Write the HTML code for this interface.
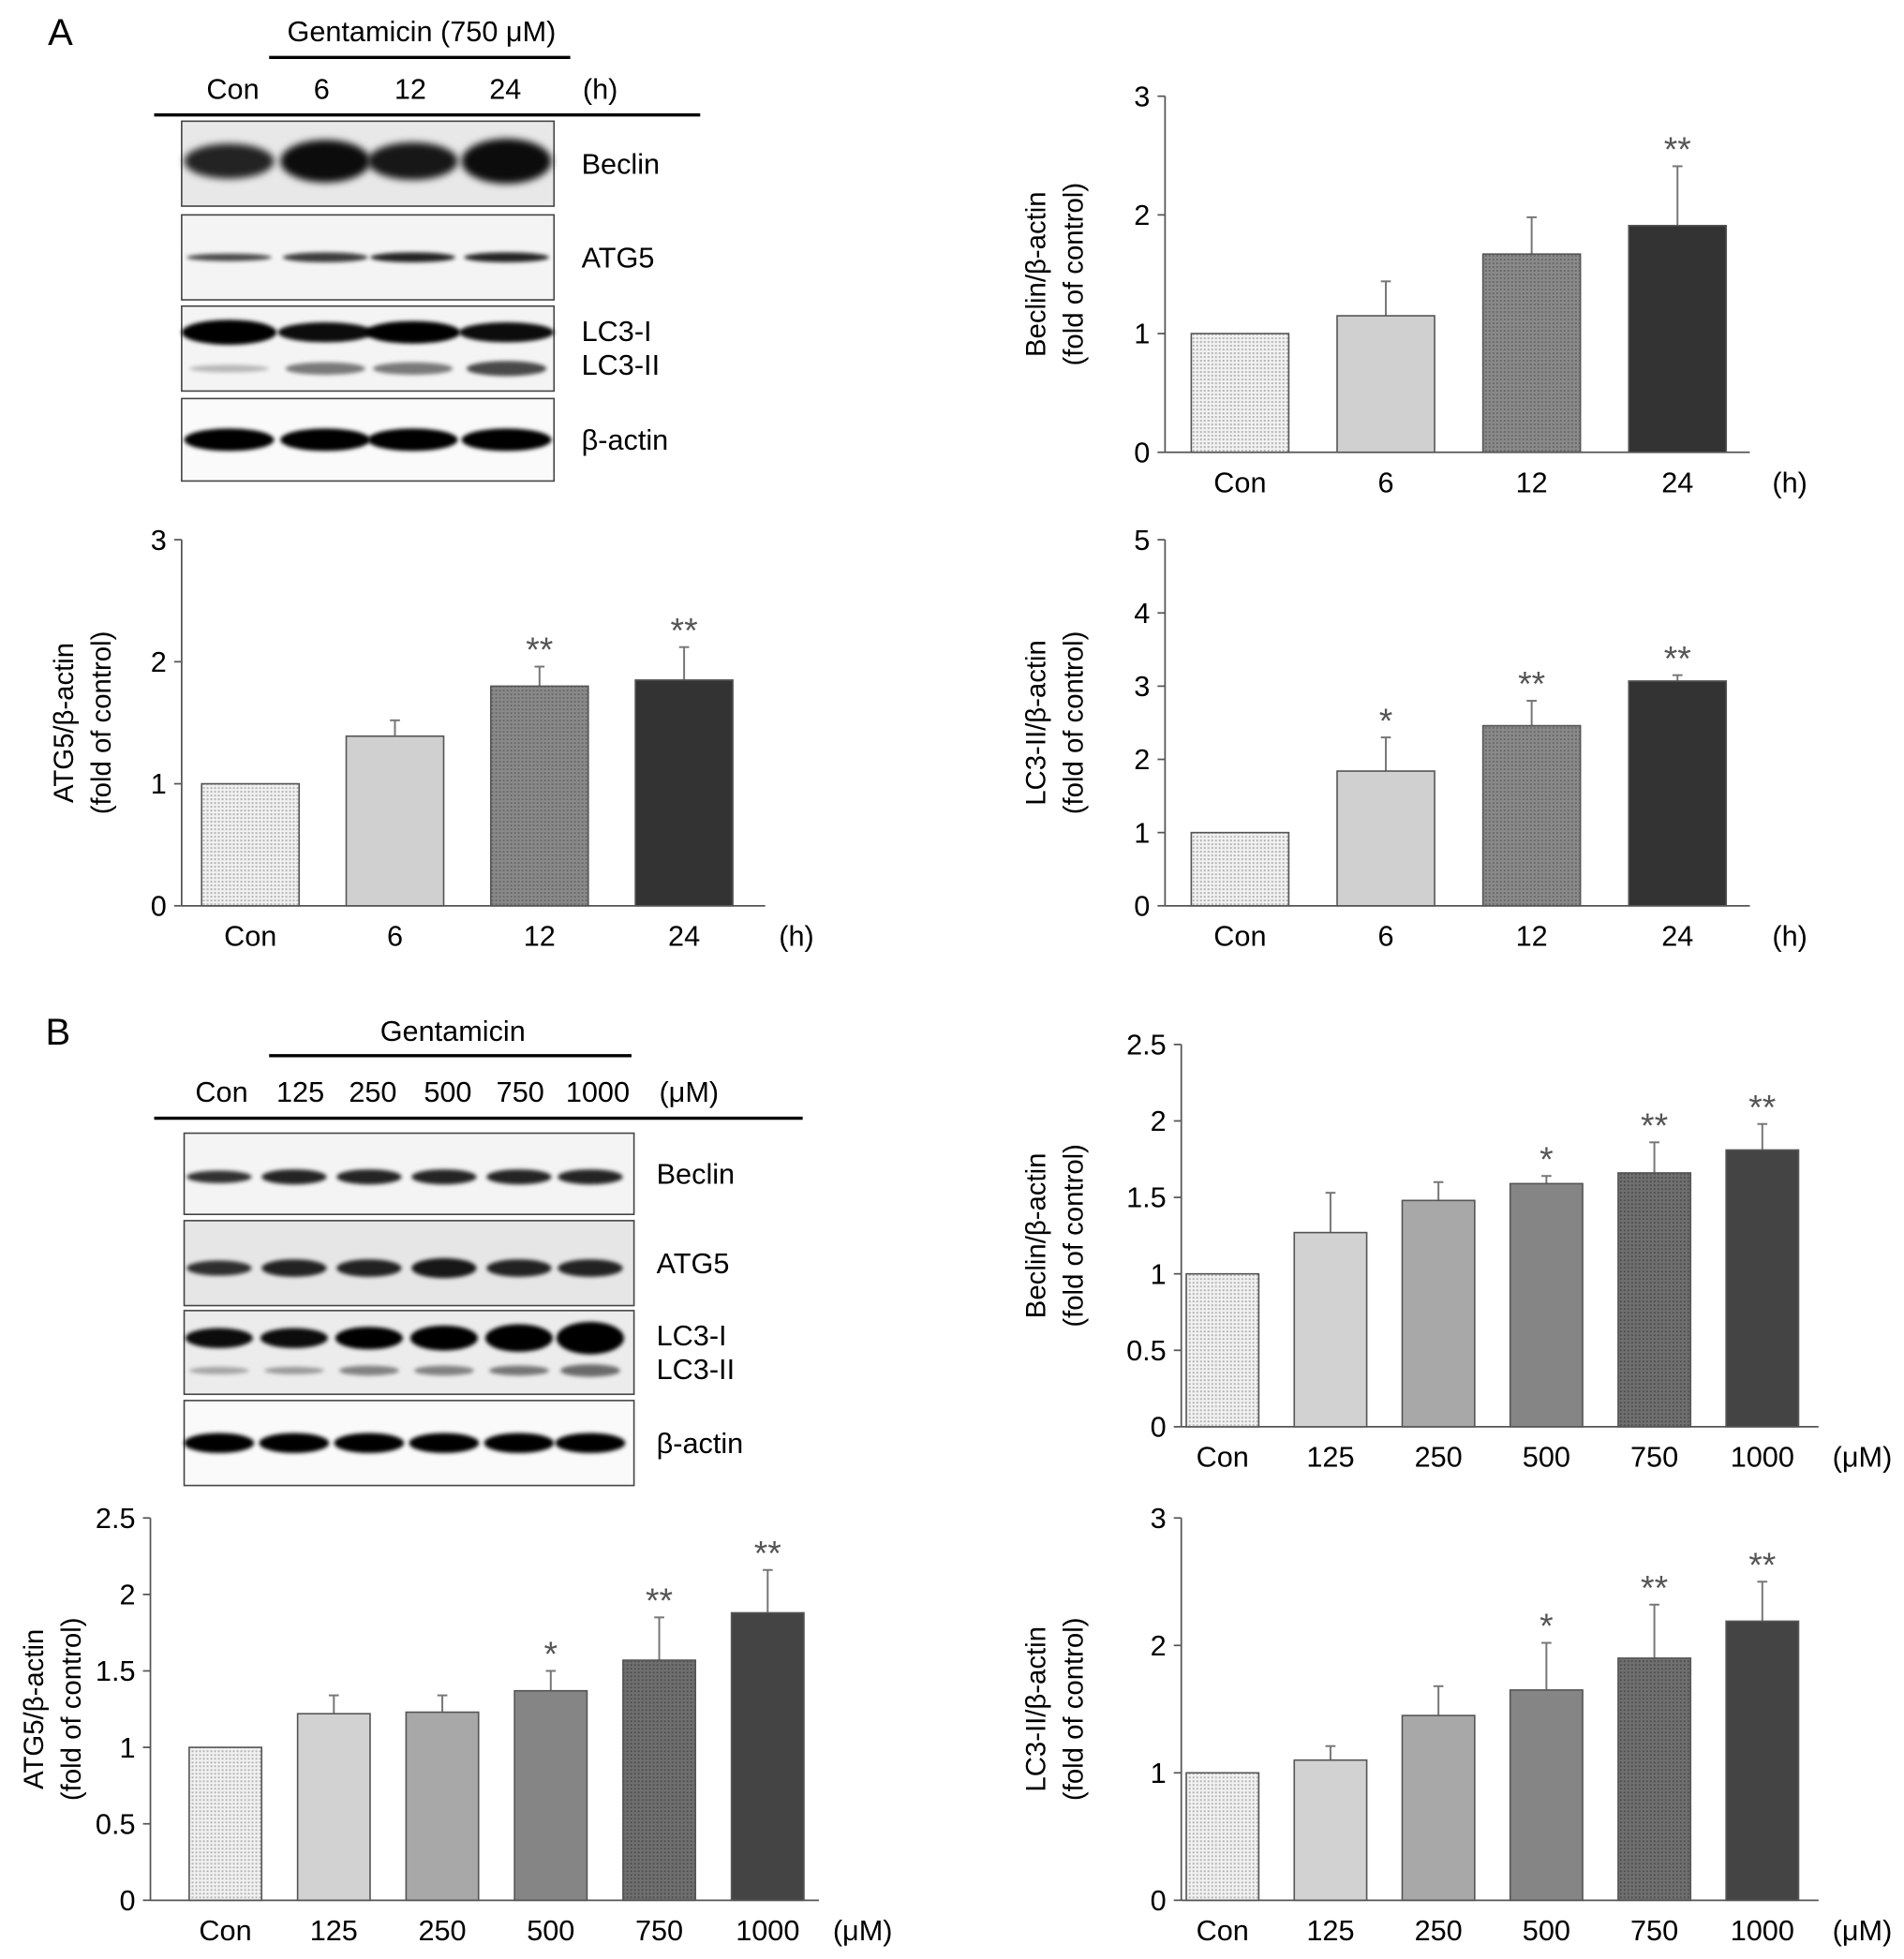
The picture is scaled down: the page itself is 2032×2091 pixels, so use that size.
<!DOCTYPE html>
<html><head><meta charset="utf-8"><style>
html,body{margin:0;padding:0;background:#fff;}
svg{display:block;font-family:"Liberation Sans",Arial,sans-serif;}
</style></head><body>
<svg id="fig" width="2032" height="2091" viewBox="0 0 1523 1568">
<defs>
<filter id="blur" x="-20%" y="-50%" width="140%" height="200%"><feGaussianBlur stdDeviation="3"/></filter>
<filter id="blurS" x="-20%" y="-50%" width="140%" height="200%"><feGaussianBlur stdDeviation="1.6"/></filter>
<pattern id="dots" width="3" height="3" patternUnits="userSpaceOnUse"><rect width="3" height="3" fill="#f2f2f2"/><rect width="1.5" height="1.5" fill="#b5b5b5"/></pattern>
<pattern id="dotsMid" width="3" height="3" patternUnits="userSpaceOnUse"><rect width="3" height="3" fill="#8a8a8a"/><rect width="1.5" height="1.5" fill="#6a6a6a"/></pattern>
<pattern id="dotsDark" width="3" height="3" patternUnits="userSpaceOnUse"><rect width="3" height="3" fill="#707070"/><rect width="1.5" height="1.5" fill="#505050"/></pattern>
</defs>

<text x="38" y="36" font-size="30">A</text>
<text x="337" y="33" font-size="23" text-anchor="middle">Gentamicin (750 μM)</text>
<line x1="215" y1="46" x2="456" y2="46" stroke="#000" stroke-width="2.5"/>
<g font-size="23" text-anchor="middle">
<text x="186" y="79">Con</text><text x="257" y="79">6</text><text x="328" y="79">12</text><text x="404" y="79">24</text><text x="480" y="79">(h)</text>
</g>
<line x1="123" y1="92" x2="560" y2="92" stroke="#000" stroke-width="2.5"/>
<g id="blotsA"></g>

<text x="36" y="836" font-size="30">B</text>
<text x="362" y="833" font-size="23" text-anchor="middle">Gentamicin</text>
<line x1="215" y1="845" x2="505" y2="845" stroke="#000" stroke-width="2.5"/>
<g font-size="23" text-anchor="middle">
<text x="177" y="882">Con</text><text x="240" y="882">125</text><text x="298" y="882">250</text><text x="358" y="882">500</text><text x="416" y="882">750</text><text x="478" y="882">1000</text><text x="551" y="882">(μM)</text>
</g>
<line x1="123" y1="895" x2="642" y2="895" stroke="#000" stroke-width="2.5"/>
<g id="blotsB"></g>

<g id="charts"></g>
</svg>
<script>
const NS="http://www.w3.org/2000/svg";
function mk(tag,attrs,parent,text){const e=document.createElementNS(NS,tag);for(const k in attrs)e.setAttribute(k,attrs[k]);if(text!==undefined)e.textContent=text;parent.appendChild(e);return e;}

const catsA=["Con","6","12","24"];
const catsB=["Con","125","250","500","750","1000"];
const beclinA=[1,1.15,1.67,1.91];
const beclinAErr=[0,1.44,1.98,2.41];
const beclinAStars=["","","","**"];
const atg5A=[1,1.39,1.8,1.85];
const atg5AErr=[0,1.52,1.96,2.12];
const atg5AStars=["","","**","**"];
const lc3A=[1,1.84,2.46,3.07];
const lc3AErr=[0,2.3,2.8,3.15];
const lc3AStars=["","*","**","**"];
const beclinB=[1,1.27,1.48,1.59,1.66,1.81];
const beclinBErr=[0,1.53,1.6,1.64,1.86,1.98];
const beclinBStars=["","","","*","**","**"];
const atg5B=[1,1.22,1.23,1.37,1.57,1.88];
const atg5BErr=[0,1.34,1.34,1.5,1.85,2.16];
const atg5BStars=["","","","*","**","**"];
const lc3B=[1,1.1,1.45,1.65,1.9,2.19];
const lc3BErr=[0,1.21,1.68,2.02,2.32,2.5];
const lc3BStars=["","","","*","**","**"];
const ticksA3=["0","1","2","3"];
const ticksA5=["0","1","2","3","4","5"];
const ticksB25=["0","0.5","1","1.5","2","2.5"];

const fillsA=["url(#dots)","#d0d0d0","url(#dotsMid)","#333"];
const fillsB=["url(#dots)","#d2d2d2","#a8a8a8","#858585","url(#dotsDark)","#444"];

const charts=[
 {name:"beclin-time-chart",x0:932,x1:1400,y0:362,yTop:77,max:3,ticks:ticksA3,cats:catsA,vals:beclinA,err:beclinAErr,stars:beclinAStars,fills:fillsA,first:992,step:116.7,bw:78,unit:"(h)",unitX:1432,t1:"Beclin/β-actin",tx:828},
 {name:"atg5-time-chart",x0:145,x1:612,y0:725,yTop:432,max:3,ticks:ticksA3,cats:catsA,vals:atg5A,err:atg5AErr,stars:atg5AStars,fills:fillsA,first:200,step:115.7,bw:78,unit:"(h)",unitX:637,t1:"ATG5/β-actin",tx:50},
 {name:"lc3-time-chart",x0:932,x1:1400,y0:725,yTop:432,max:5,ticks:ticksA5,cats:catsA,vals:lc3A,err:lc3AErr,stars:lc3AStars,fills:fillsA,first:992,step:116.7,bw:78,unit:"(h)",unitX:1432,t1:"LC3-II/β-actin",tx:828},
 {name:"beclin-dose-chart",x0:945,x1:1455,y0:1142,yTop:836,max:2.5,ticks:ticksB25,cats:catsB,vals:beclinB,err:beclinBErr,stars:beclinBStars,fills:fillsB,first:978,step:86.4,bw:58,unit:"(μM)",unitX:1490,t1:"Beclin/β-actin",tx:828},
 {name:"atg5-dose-chart",x0:120,x1:655,y0:1521,yTop:1215,max:2.5,ticks:ticksB25,cats:catsB,vals:atg5B,err:atg5BErr,stars:atg5BStars,fills:fillsB,first:180,step:86.8,bw:58,unit:"(μM)",unitX:690,t1:"ATG5/β-actin",tx:26},
 {name:"lc3-dose-chart",x0:945,x1:1455,y0:1521,yTop:1215,max:3,ticks:ticksA3,cats:catsB,vals:lc3B,err:lc3BErr,stars:lc3BStars,fills:fillsB,first:978,step:86.4,bw:58,unit:"(μM)",unitX:1490,t1:"LC3-II/β-actin",tx:828}
];

const root=document.getElementById("charts");
charts.forEach(c=>{
 const g=mk("g",{},root);
 
 
 const yS=v=>c.y0-(v/c.max)*(c.y0-c.yTop);
 const xS=i=>c.first+i*c.step;
 const ya=mk("line",{x1:c.x0,y1:c.yTop,x2:c.x0,y2:c.y0,stroke:"#555","stroke-width":1.3},g);
 
 
 const xa=mk("line",{x1:c.x0,y1:c.y0,x2:c.x1,y2:c.y0,stroke:"#555","stroke-width":1.3},g);
 
 
 c.ticks.forEach(t=>{
  const v=parseFloat(t),y=yS(v);
  mk("line",{x1:c.x0-6,y1:y,x2:c.x0,y2:y,stroke:"#555","stroke-width":1.3},g);
  const tl=mk("text",{x:c.x0-12,y:y+8,"font-size":23,"text-anchor":"end"},g,t);
  
  
 });
 c.cats.forEach((cat,i)=>{
  const cx=xS(i),v=c.vals[i],y=yS(v);
  if(c.err[i]>0){
   const eb=mk("line",{x1:cx,y1:yS(c.err[i]),x2:cx,y2:y,stroke:"#777","stroke-width":1.5},g);
   
   
   mk("line",{x1:cx-4,y1:yS(c.err[i]),x2:cx+4,y2:yS(c.err[i]),stroke:"#777","stroke-width":1.5},g);
  }
  const b=mk("rect",{x:cx-c.bw/2,y:y,width:c.bw,height:c.y0-y,fill:c.fills[i],stroke:"#555","stroke-width":1.2},g);
  
  
  if(c.stars[i]){
   const top=c.err[i]>0?yS(c.err[i]):y;
   const s=mk("text",{x:cx,y:top-4,"font-size":28,"text-anchor":"middle",fill:"#555"},g,c.stars[i]);
   
   
  }
  const xl=mk("text",{x:cx,y:c.y0+32,"font-size":23,"text-anchor":"middle"},g,cat);
  
  
 });
 const u=mk("text",{x:c.unitX,y:c.y0+32,"font-size":23,"text-anchor":"middle"},g,c.unit);
 
 
 const cy=(c.y0+c.yTop)/2;
 const t1=mk("text",{x:0,y:0,"font-size":22,"text-anchor":"middle",transform:`translate(${c.tx+8},${cy}) rotate(-90)`},g,c.t1);
 
 
 const t2=mk("text",{x:0,y:0,"font-size":22,"text-anchor":"middle",transform:`translate(${c.tx+38},${cy}) rotate(-90)`},g,"(fold of control)");
 
 
});

function blot(parent,x,y,w,h,lanes,bands,label,labelX,bg){
 const g=mk("g",{},parent);
 
 
 mk("rect",{x:x,y:y,width:w,height:h,fill:bg||"#f4f4f4",stroke:"#444","stroke-width":1.2},g);
 bands.forEach(bd=>{
  lanes.forEach((lx,i)=>{
   mk("ellipse",{cx:lx,cy:y+bd.y,rx:bd.rx,ry:bd.ry[i],fill:"#000","fill-opacity":bd.o[i],filter:bd.s?"url(#blurS)":"url(#blur)"},g);
  });
 });
 label.forEach((l,i)=>{
  const t=mk("text",{x:labelX,y:y+(label.length==1?h/2+8:[28,55][i]),"font-size":23},g,l);
  
  
 });
}
const bA=document.getElementById("blotsA");
const lA=[183,260,330,405];
blot(bA,145,97,298,68,lA,[{y:32,rx:36,ry:[14,17,15,18],o:[0.85,0.95,0.9,0.95]}],["Beclin"],465,"#e8e8e8");
blot(bA,145,172,298,68,lA,[{y:34,rx:34,ry:[3,4,4,4],o:[0.7,0.75,0.85,0.85],s:1}],["ATG5"],465);
blot(bA,145,245,298,68,lA,[{y:21,rx:38,ry:[10,8,9,8],o:[1,0.95,1,0.95],s:1},{y:50,rx:32,ry:[3,5,5,6],o:[0.25,0.5,0.5,0.7],s:1}],["LC3-I","LC3-II"],465);
blot(bA,145,319,298,66,lA,[{y:33,rx:36,ry:[9,9,9,9],o:[1,1,1,1],s:1}],["β-actin"],465,"#fafafa");
const bB=document.getElementById("blotsB");
const lB=[175,235,295,355,415,472];
blot(bB,147,907,360,65,lB,[{y:35,rx:26,ry:[5,6,6,6,6,6],o:[0.8,0.85,0.85,0.85,0.85,0.85],s:1}],["Beclin"],525);
blot(bB,147,977,360,68,lB,[{y:38,rx:26,ry:[6,7,7,8,7,7],o:[0.8,0.85,0.85,0.9,0.85,0.85],s:1}],["ATG5"],525,"#e6e6e6");
blot(bB,147,1049,360,67,lB,[{y:22,rx:27,ry:[8,8,9,10,11,13],o:[0.95,0.95,1,1,1,1],s:1},{y:48,rx:24,ry:[3,3,4,4,4,5],o:[0.3,0.35,0.45,0.45,0.5,0.55],s:1}],["LC3-I","LC3-II"],525,"#ececec");
blot(bB,147,1121,360,68,lB,[{y:34,rx:28,ry:[8,8,8,8,8,8],o:[1,1,1,1,1,1],s:1}],["β-actin"],525,"#fafafa");
</script>
</body></html>
